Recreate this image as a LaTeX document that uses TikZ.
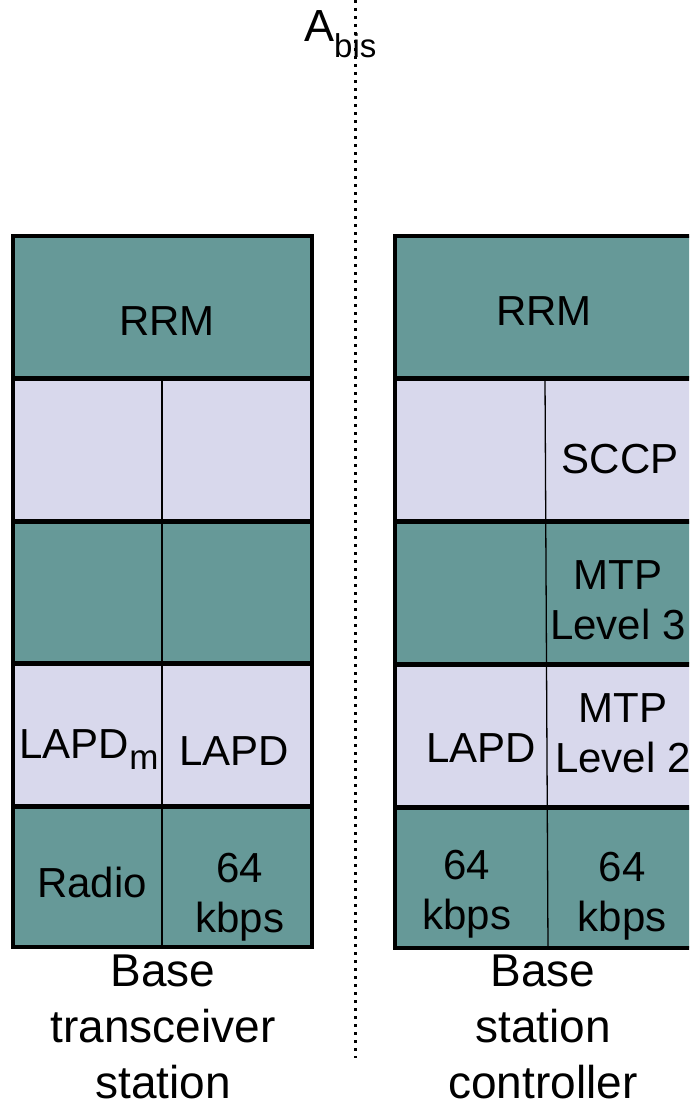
\documentclass[tikz,border=0pt]{standalone}
\usepackage{fontspec}
\setmainfont{Liberation Sans}
\definecolor{tealc}{RGB}{102,153,152}
\definecolor{lavc}{RGB}{216,216,236}
\begin{document}
\begin{tikzpicture}[x=1pt,y=-1pt,
  lbl/.style={font=\fontsize{42}{50}\selectfont, align=center, inner sep=0pt},
  captionlbl/.style={font=\fontsize{46}{56}\selectfont, align=center, inner sep=0pt},
  sepline/.style={line width=5pt},
  outline/.style={line width=4.5pt},
  divline/.style={line width=1.3pt},
  abisline/.style={line width=3pt, dash pattern=on 3pt off 5pt}]
\useasboundingbox (0,0) rectangle (689,1108);
\clip (0,0) rectangle (689,1108);
% ---------- left stack (BTS)
\fill[tealc] (13,236) rectangle (312,378);
\fill[lavc]  (13,378) rectangle (312,521);
\fill[tealc] (13,521) rectangle (312,663);
\fill[lavc]  (13,663) rectangle (312,806);
\fill[tealc] (13,806) rectangle (312,947);
\draw[divline] (162,378) -- (162,947);
\foreach \yy in {378,521,663,806} \draw[sepline] (13,\yy) -- (312,\yy);
\draw[outline] (13,236) rectangle (312,947);
% ---------- right stack (BSC)
\fill[tealc] (395,236) rectangle (697,378);
\fill[lavc]  (395,378) rectangle (697,521);
\fill[tealc] (395,521) rectangle (697,664);
\fill[lavc]  (395,664) rectangle (697,807);
\fill[tealc] (395,807) rectangle (697,948);
\draw[divline] (545,378) -- (548,948);
\foreach \yy in {378,521,664,807} \draw[sepline] (395,\yy) -- (697,\yy);
\draw[outline] (395,236) rectangle (697,948);
% ---------- Abis interface line
\coordinate (itop) at (355,0);
\coordinate (ibot) at (355,1058);
\draw[abisline] (itop) -- (ibot);
\node[lbl, font=\fontsize{45}{50}\selectfont, anchor=base west] (abis) at (304,42) {A{\fontsize{33}{33}\selectfont\raisebox{-16pt}{bis}}};
% ---------- left texts
\node[lbl, anchor=base] (lrrm) at (167,335) {RRM};
\node[lbl, anchor=base] (llapdm) at (89,758) {LAPD{\fontsize{35}{35}\selectfont\raisebox{-11pt}{m}}};
\node[lbl, anchor=base] (llapd) at (234,765) {LAPD};
\node[lbl, anchor=base] (lradio) at (92,897) {Radio};
\node[lbl, anchor=north] (l64) at (240,853) {64\\kbps};
\node[captionlbl, anchor=north] (bts) at (163,955) {Base\\transceiver\\station};
% ---------- right texts
\node[lbl, anchor=base] (rrrm) at (544,325) {RRM};
\node[lbl, anchor=base] (sccp) at (620,473) {SCCP};
\node[lbl, anchor=north] (mtp3) at (618,560) {MTP\\Level 3};
\node[lbl, anchor=base] (rlapd) at (481,762) {LAPD};
\node[lbl, anchor=north] (mtp2) at (623,693) {MTP\\Level 2};
\node[lbl, anchor=north] (r64a) at (467,850) {64\\kbps};
\node[lbl, anchor=north] (r64b) at (622,852) {64\\kbps};
\node[captionlbl, anchor=north] (bsc) at (543,955) {Base\\station\\controller};
\end{tikzpicture}
\end{document}
